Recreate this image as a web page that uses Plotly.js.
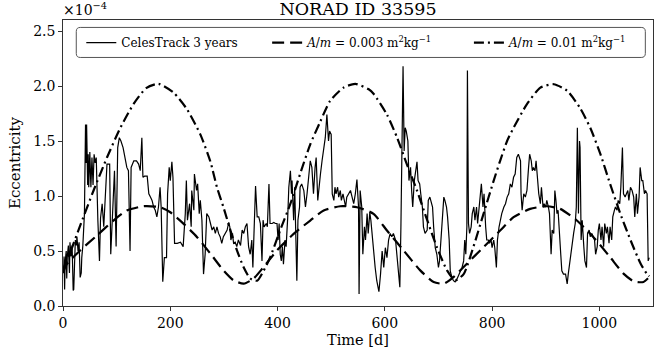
<!DOCTYPE html>
<html>
<head>
<meta charset="utf-8">
<script src="https://cdn.plot.ly/plotly-3.0.1.min.js"></script>
<style>html,body{margin:0;padding:0;background:#fff}#chart{width:671px;height:360px}</style>
</head>
<body>
<div id="chart"></div>
<script>
// Values for eccentricity are in units of 1e-4 (as shown on the axis)
const SCALE = 1e-4;

const obsDays = [1,2,3,4,6,7,8,10,12,13,15,17,19,20,22,23,25,26,28,30,32,34,35,37,40,42,43,44,46,47,48,50,52,54,56,58,60,62,65,68,70,73,76,79,82,85,87,89,93,96,99,102,105,108,112,116,119,122,125,127,132,137,141,144,147,149,152,157,160,163,166,169,172,175,178,181,183,185,186,189,193,195,198,200,203,205,208,213,219,224,228,230,232,236,239,240,244,245,249,251,254,256,259,262,265,268,272,
275,278,281,284,287,290,293,296,299,303,306,309,311,313,316,318,321,324,327,331,334,337,340,343,346,349,352,354,357,359,362,365,368,371,373,375,379,381,384,386,390,393,396,399,401,403,405,407,409,411,414,416,419,421,424,426,427,430,432,434,436,438,441,442,445,449,452,455,458,461,464,467,470,472,475,477,480,483,486,489,492,495,497,500,502,505,507,509,512,514,517,519,522,524,527,529,532,536,539,542,545,548,551,552,554,
557,559,562,564,567,569,572,574,577,579,582,585,589,592,595,598,601,604,607,610,613,616,620,623,626,628,630,634,636,638,640,643,645,648,650,652,655,657,660,662,665,667,670,672,675,679,681,684,686,689,691,694,697,700,702,705,707,710,712,715,717,720,722,725,728,731,735,738,741,744,747,749,751,753,754,756,758,761,763,766,768,771,773,776,778,780,783,785,788,790,793,795,798,800,803,805,808,810,813,815,818,822,825,828,831,
834,837,840,843,846,849,853,854,856,859,862,865,868,870,873,875,877,880,882,885,887,890,892,895,897,900,902,905,907,910,912,915,917,919,921,923,926,928,930,933,937,940,942,945,947,950,952,955,957,959,961,963,964,966,968,971,973,976,978,981,983,986,988,991,993,996,998,1000,1003,1005,1008,1010,1013,1015,1018,1020,1023,1025,1028,1030,1033,1035,1038,1040,1043,1045,1048,1050,1053,1055,1058,1061,1064,1066,1069,1071,1074,1076,1079,1081,1084,1086,1089,1091,1093];

const obsEcc = [0.30,0.45,0.15,0.40,0.50,0.25,0.45,0.55,0.30,0.58,0.45,0.55,0.14,0.15,0.45,0.60,0.55,0.63,0.50,0.58,0.26,0.30,0.44,0.55,0.84,1.65,1.30,1.65,1.10,1.38,1.08,1.40,1.08,1.35,1.10,1.38,1.30,1.35,0.78,0.41,0.80,0.93,0.72,0.96,1.29,1.29,1.29,0.47,0.87,1.23,0.54,1.44,1.53,1.50,1.44,1.35,1.26,1.23,0.50,1.26,1.32,1.32,1.29,1.23,1.53,1.17,1.18,1.18,1.02,0.99,0.96,0.90,0.87,0.81,0.90,1.08,0.90,0.44,0.22,0.44,0.44,1.02,1.26,1.14,1.31,1.17,0.57,0.57,0.58,0.54,0.84,1.14,0.78,0.93,0.72,1.05,0.87,1.20,1.05,1.11,0.84,0.96,0.78,0.29,0.47,0.84,0.81,
0.75,0.69,0.72,0.66,0.72,0.66,0.63,0.57,0.63,0.66,0.69,0.76,0.72,0.60,0.66,0.57,0.58,0.54,0.60,0.55,0.69,0.66,0.72,0.75,0.54,0.47,0.60,0.35,0.96,1.09,0.81,0.81,0.75,0.41,0.78,0.72,0.75,0.72,1.11,0.75,0.75,0.76,0.75,0.75,0.60,0.75,0.47,0.41,0.54,0.38,0.60,0.54,0.81,1.08,1.23,1.02,1.14,0.78,1.08,0.63,0.23,0.78,0.90,1.08,1.11,1.05,0.90,1.02,1.17,1.32,1.26,1.02,1.26,1.35,0.96,1.08,1.20,1.32,1.44,1.53,1.74,1.50,1.59,1.56,1.02,0.96,1.08,1.02,1.08,0.99,1.05,0.96,1.02,0.96,0.90,0.99,1.02,1.05,0.99,0.93,1.02,1.15,0.90,0.11,1.05,
0.90,0.47,0.72,0.60,0.84,0.66,0.85,0.78,0.60,0.50,0.35,0.23,0.13,0.29,0.50,0.35,0.53,0.44,0.60,0.66,0.63,0.66,0.60,0.44,0.29,0.17,0.72,2.18,1.41,1.62,1.59,1.50,1.14,1.26,1.05,0.90,1.14,1.20,1.31,1.14,1.11,1.02,0.90,0.72,0.66,0.69,0.96,0.99,0.96,0.90,0.72,0.53,0.47,0.35,0.41,0.66,0.78,0.99,0.96,0.90,0.81,0.60,0.32,0.26,0.23,0.22,0.25,0.28,0.32,0.35,0.41,0.60,0.47,0.72,2.14,0.75,0.66,0.72,0.84,0.90,0.78,0.90,0.75,0.90,0.96,1.11,0.90,1.02,0.72,0.60,0.60,0.57,0.60,0.53,0.60,0.53,0.35,0.60,0.72,0.78,0.84,0.90,0.93,0.99,1.02,
1.11,1.08,1.17,1.20,1.35,1.38,1.32,1.02,0.87,1.02,0.99,1.05,1.26,1.38,1.32,1.23,1.26,1.23,1.32,1.14,1.02,0.93,1.08,0.90,0.93,0.90,0.96,0.90,0.84,0.47,0.69,0.66,1.05,0.96,0.84,0.87,0.57,0.47,0.32,0.29,0.29,0.20,0.29,0.41,0.47,0.60,0.66,0.75,0.90,1.62,0.84,1.50,1.44,0.60,0.78,0.54,0.41,0.35,0.66,0.69,0.63,0.66,0.63,0.60,0.47,0.54,0.69,0.75,0.60,0.72,0.54,0.75,0.66,0.72,0.57,0.72,0.60,0.81,0.87,0.90,0.87,0.96,0.93,1.08,1.44,1.02,0.99,1.02,1.05,0.96,1.08,1.05,0.99,0.81,1.02,0.84,0.99,1.26,1.14,1.14,1.02,1.05,1.02,0.41,0.44];

const lowDays = [0,7,32,63,94,119,150,181,200,225,250,275,299,318,337,355,374,399,430,461,486,517,548,579,604,635,666,691,710,728,753,784,815,840,871,902,927,958,989,1020,1045,1064,1082,1093];
const lowEcc  = [0.30,0.38,0.505,0.64,0.777,0.868,0.907,0.898,0.852,0.747,0.626,0.475,0.324,0.233,0.203,0.248,0.354,0.505,0.656,0.777,0.868,0.907,0.898,0.838,0.686,0.505,0.324,0.218,0.203,0.263,0.384,0.535,0.686,0.807,0.883,0.907,0.883,0.777,0.626,0.444,0.294,0.224,0.218,0.263];

const highDays = [0,4,16,32,57,82,107,132,155,178,206,231,256,275,287,299,312,324,337,349,362,374,386,405,424,442,461,480,498,523,545,570,579,604,623,641,660,679,697,716,731,747,765,784,803,815,828,840,865,890,915,940,964,983,1002,1020,1039,1058,1077,1089,1093];
const highEcc  = [0.33,0.38,0.52,0.73,1.05,1.35,1.62,1.84,1.98,2.02,1.94,1.79,1.56,1.31,1.08,0.90,0.69,0.51,0.35,0.25,0.23,0.32,0.44,0.69,0.93,1.20,1.47,1.68,1.865,1.985,2.02,1.97,1.93,1.74,1.53,1.29,1.05,0.78,0.535,0.324,0.233,0.29,0.535,0.838,1.14,1.32,1.50,1.62,1.835,1.985,2.016,1.956,1.80,1.62,1.38,1.11,0.84,0.60,0.384,0.29,0.27];

const yTickVals = [0, 0.5, 1.0, 1.5, 2.0, 2.5];
const yTickText = ['0.0','0.5','1.0','1.5','2.0','2.5'];
const xTickVals = [0, 200, 400, 600, 800, 1000];

const names = ['CelesTrack 3 years',
  '<i>A</i>/<i>m</i> = 0.003 m<sup>2</sup>kg<sup>\u22121</sup>',
  '<i>A</i>/<i>m</i> = 0.01 m<sup>2</sup>kg<sup>\u22121</sup>'];

const sc = a => a.map(v => v * SCALE);

const traces = [
  {x: obsDays, y: sc(obsEcc), mode: 'lines', name: names[0], line: {color: 'black', width: 1.2}, legend: 'legend'},
  {x: lowDays, y: sc(lowEcc), mode: 'lines', name: names[1], line: {color: 'black', width: 2.2, dash: '12px,6px', shape: 'spline', smoothing: 0.6}, legend: 'legend2'},
  {x: highDays, y: sc(highEcc), mode: 'lines', name: names[2], line: {color: 'black', width: 2.2, dash: '10px,4px,2px,4px', shape: 'spline', smoothing: 0.6}, legend: 'legend3'}
];

const legFont = {family: 'DejaVu Serif', size: 12, color: 'black'};
const legBase = {orientation: 'h', bgcolor: 'rgba(0,0,0,0)', borderwidth: 0, font: legFont, yanchor: 'middle', y: 0.921, xanchor: 'left'};

const layout = {
  width: 671, height: 360,
  margin: {l: 63, r: 18, t: 20, b: 54},
  paper_bgcolor: 'white', plot_bgcolor: 'white',
  font: {family: 'DejaVu Serif', color: 'black'},
  title: {text: 'NORAD ID 33595', font: {size: 17.5}, x: 0.5, xref: 'paper', y: 0.976, yref: 'container', yanchor: 'middle'},
  showlegend: true,
  legend: Object.assign({}, legBase, {x: 0.031}),
  legend2: Object.assign({}, legBase, {x: 0.346}),
  legend3: Object.assign({}, legBase, {x: 0.688}),
  xaxis: {
    range: [0, 1100], tickvals: xTickVals, ticks: 'outside', ticklen: 4, tickwidth: 0.8, tickcolor: 'black',
    showline: true, mirror: true, linecolor: 'black', linewidth: 0.8, showgrid: false, zeroline: false,
    tickfont: {size: 14}, title: {text: 'Time [d]', font: {size: 14.5}, standoff: 5}, automargin: false
  },
  yaxis: {
    range: [0, 2.6 * SCALE], tickvals: sc(yTickVals), ticktext: yTickText, ticks: 'outside', ticklen: 4, tickwidth: 0.8, tickcolor: 'black',
    showline: true, mirror: true, linecolor: 'black', linewidth: 0.8, showgrid: false, zeroline: false,
    tickfont: {size: 14}, title: {text: 'Eccentricity', font: {size: 15}, standoff: 8}, automargin: false
  },
  shapes: [{
    type: 'path', xref: 'paper', yref: 'paper', layer: 'above',
    path: 'M 0.0293,0.974 L 0.980,0.974 Q 0.987,0.974 0.987,0.960 L 0.987,0.883 Q 0.987,0.869 0.980,0.869 L 0.0293,0.869 Q 0.0225,0.869 0.0225,0.883 L 0.0225,0.960 Q 0.0225,0.974 0.0293,0.974 Z',
    line: {color: '#555', width: 1}, fillcolor: 'rgba(255,255,255,0.8)'
  }],
  annotations: [{
    text: '\u00d710<sup>\u22124</sup>', xref: 'paper', yref: 'paper', x: 0, y: 1, xanchor: 'left', yanchor: 'bottom',
    showarrow: false, font: {size: 14}, xshift: -2
  }]
};

Plotly.newPlot('chart', traces, layout, {displayModeBar: false, staticPlot: true});
</script>
</body>
</html>
